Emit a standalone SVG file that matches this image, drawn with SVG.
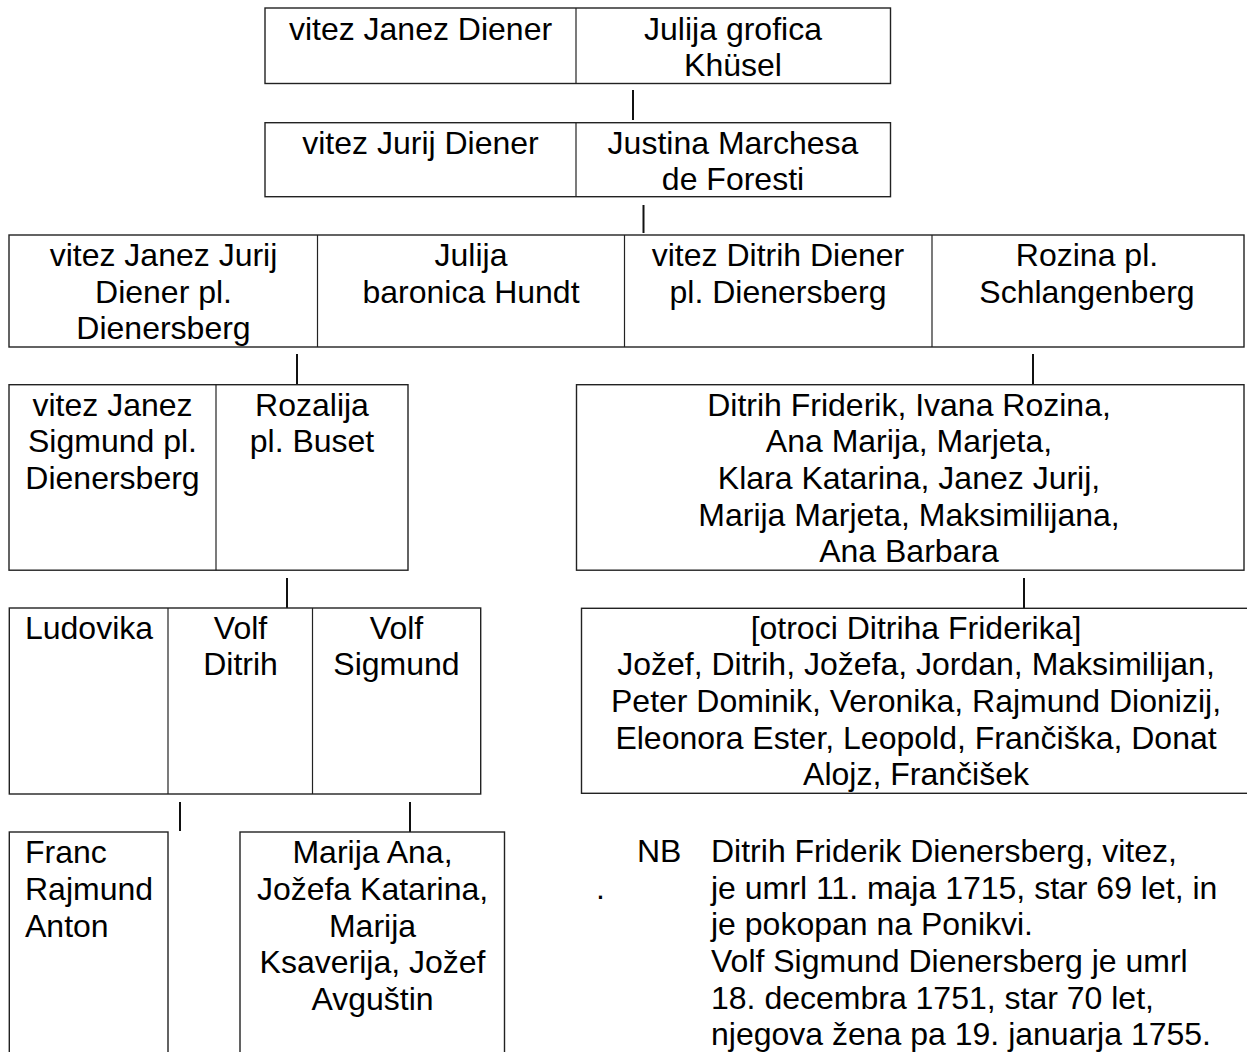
<svg xmlns="http://www.w3.org/2000/svg" width="1247" height="1052" viewBox="0 0 1247 1052">
<style>
.box{fill:#fff;stroke:#222;stroke-width:1.4}
.div{stroke:#222;stroke-width:1.2}
.con{stroke:#111;stroke-width:2}
text{font-family:"Liberation Sans",Arial,sans-serif;font-size:32px;fill:#000}
.c{text-anchor:middle}
</style>
<rect width="1247" height="1052" fill="#fff"/>
<g id="connectors">
<line class="con" x1="633" y1="90" x2="633" y2="120"/>
<line class="con" x1="643.5" y1="205" x2="643.5" y2="233"/>
<line class="con" x1="297" y1="354" x2="297" y2="384"/>
<line class="con" x1="1033" y1="354" x2="1033" y2="384"/>
<line class="con" x1="287" y1="578" x2="287" y2="608"/>
<line class="con" x1="1024" y1="578" x2="1024" y2="608"/>
<line class="con" x1="180" y1="802" x2="180" y2="831"/>
<line class="con" x1="410" y1="802" x2="410" y2="832"/>
</g>
<g id="gen1">
<rect class="box" x="265" y="8" width="625.5" height="75.5"/>
<line class="div" x1="576" y1="8" x2="576" y2="83.5"/>
<text class="c" x="420.5" y="39.5">vitez Janez Diener</text>
<text class="c" x="733" y="39.5">Julija grofica</text>
<text class="c" x="733" y="76.2">Khüsel</text>
</g>
<g id="gen2">
<rect class="box" x="265" y="122.7" width="625.5" height="74"/>
<line class="div" x1="576" y1="122.7" x2="576" y2="196.7"/>
<text class="c" x="420.5" y="153.5">vitez Jurij Diener</text>
<text class="c" x="733" y="153.5">Justina Marchesa</text>
<text class="c" x="733" y="190.2">de Foresti</text>
</g>
<g id="gen3">
<rect class="box" x="9" y="235" width="1235" height="112"/>
<line class="div" x1="317.5" y1="235" x2="317.5" y2="347"/>
<line class="div" x1="624.5" y1="235" x2="624.5" y2="347"/>
<line class="div" x1="932" y1="235" x2="932" y2="347"/>
<text class="c" x="163.5" y="266">vitez Janez Jurij</text>
<text class="c" x="163.5" y="302.7">Diener pl.</text>
<text class="c" x="163.5" y="339.4">Dienersberg</text>
<text class="c" x="471" y="266">Julija</text>
<text class="c" x="471" y="302.7">baronica Hundt</text>
<text class="c" x="778" y="266">vitez Ditrih Diener</text>
<text class="c" x="778" y="302.7">pl. Dienersberg</text>
<text class="c" x="1087" y="266">Rozina pl.</text>
<text class="c" x="1087" y="302.7">Schlangenberg</text>
</g>
<g id="gen4-left">
<rect class="box" x="9" y="384.7" width="399" height="185.5"/>
<line class="div" x1="216" y1="384.7" x2="216" y2="570.2"/>
<text class="c" x="112.5" y="415.5">vitez Janez</text>
<text class="c" x="112.5" y="452.2">Sigmund pl.</text>
<text class="c" x="112.5" y="488.9">Dienersberg</text>
<text class="c" x="312" y="415.5">Rozalija</text>
<text class="c" x="312" y="452.2">pl. Buset</text>
</g>
<g id="gen4-right">
<rect class="box" x="576.5" y="384.7" width="667.5" height="185.5"/>
<text class="c" x="909" y="415.5">Ditrih Friderik, Ivana Rozina,</text>
<text class="c" x="909" y="452.2">Ana Marija, Marjeta,</text>
<text class="c" x="909" y="488.9">Klara Katarina, Janez Jurij,</text>
<text class="c" x="909" y="525.6">Marija Marjeta, Maksimilijana,</text>
<text class="c" x="909" y="562.3">Ana Barbara</text>
</g>
<g id="gen5-left">
<rect class="box" x="9.3" y="608" width="471.4" height="186"/>
<line class="div" x1="168" y1="608" x2="168" y2="794"/>
<line class="div" x1="312.5" y1="608" x2="312.5" y2="794"/>
<text class="c" x="89" y="638.5">Ludovika</text>
<text class="c" x="240.5" y="638.5">Volf</text>
<text class="c" x="240.5" y="675.2">Ditrih</text>
<text class="c" x="396.5" y="638.5">Volf</text>
<text class="c" x="396.5" y="675.2">Sigmund</text>
</g>
<g id="gen5-right">
<rect class="box" x="581.5" y="608.3" width="670" height="185"/>
<text class="c" x="916" y="638.5">[otroci Ditriha Friderika]</text>
<text class="c" x="916" y="675.2">Jožef, Ditrih, Jožefa, Jordan, Maksimilijan,</text>
<text class="c" x="916" y="711.9">Peter Dominik, Veronika, Rajmund Dionizij,</text>
<text class="c" x="916" y="748.6">Eleonora Ester, Leopold, Frančiška, Donat</text>
<text class="c" x="916" y="785.3">Alojz, Frančišek</text>
</g>
<g id="gen6-franc">
<rect class="box" x="9.3" y="832" width="158.7" height="240"/>
<text x="25" y="863.3">Franc</text>
<text x="25" y="900">Rajmund</text>
<text x="25" y="936.7">Anton</text>
</g>
<g id="gen6-marija">
<rect class="box" x="240" y="832" width="264.5" height="240"/>
<text class="c" x="372.5" y="863.3">Marija Ana,</text>
<text class="c" x="372.5" y="900">Jožefa Katarina,</text>
<text class="c" x="372.5" y="936.7">Marija</text>
<text class="c" x="372.5" y="973.4">Ksaverija, Jožef</text>
<text class="c" x="372.5" y="1010.1">Avguštin</text>
</g>
<g id="note">
<text x="637" y="862">NB</text>
<text x="596" y="898.5">.</text>
<text x="711" y="862">Ditrih Friderik Dienersberg, vitez,</text>
<text x="711" y="898.5">je umrl 11. maja 1715, star 69 let, in</text>
<text x="711" y="935.2">je pokopan na Ponikvi.</text>
<text x="711" y="971.9">Volf Sigmund Dienersberg je umrl</text>
<text x="711" y="1008.6">18. decembra 1751, star 70 let,</text>
<text x="711" y="1045.3">njegova žena pa 19. januarja 1755.</text>
</g>
</svg>
